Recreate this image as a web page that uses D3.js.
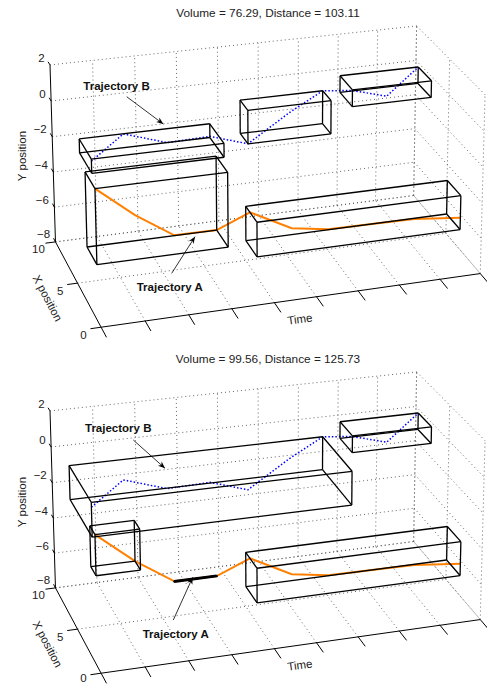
<!DOCTYPE html>
<html><head><meta charset="utf-8">
<script src="https://cdn.jsdelivr.net/npm/d3@7"></script>
<style>body{margin:0;background:#fff}text{font-family:"Liberation Sans",Arial,Helvetica,sans-serif}</style>
</head><body><div id="chart"></div>
<script>
// les deux trajectoires, un point par pas de temps
var timeSteps = d3.range(0, 10);
var trajAX = [0.57, 1.64, 2.55, 2.62, 4.20, 4.14, 4.83, 4.96, 3.96, 2.97];
var trajAY = [-0.80, -2.99, -4.82, -4.87, -4.90, -6.08, -6.76, -6.85, -6.38, -6.17];
var trajBX = [1.18, 3.71, 3.72, 3.70, 4.50, 4.62, 5.88, 7.60, 8.43, 9.64];
var trajBY = [0.39, 0.50, -0.25, -0.18, -1.20, 0.19, 0.65, -0.28, -1.20, -0.24];

// découpage en segments (une boite = enveloppe d'un segment)
var titles = ["Volume = 76.29, Distance = 103.11", "Volume = 99.56, Distance = 125.73"];
var segmentsA = [[[0, 3], [4, 9]], [[0, 1], [2, 3], [4, 9]]];
var segmentsB = [[[0, 3], [4, 6], [7, 9]], [[0, 6], [7, 9]]];

var timeTicks = d3.range(0, 10);
var xTicks = [0, 5, 10];
var yTicks = [-8, -6, -4, -2, 0, 2];

var width = 487, height = 685, panelShift = 346;

var svg = d3.select("#chart").append("svg")
    .attr("width", width).attr("height", height);

var tS = d3.scaleLinear().domain([0, 9]).range([0, 1]);
var xS = d3.scaleLinear().domain([0, 10]).range([0, 1]);
var yS = d3.scaleLinear().domain([-8, 2]).range([0, 1]);

// coins du cadre 3D a l'ecran -> matrice de projection (perspective)
var frameCorners = [
    [[0, 10, 2], [49.5, 65]], [[0, 10, 0], [51.7, 101]], [[0, 10, -8], [55, 242]], [[0, 5, -8], [78.3, 283.3]],
    [[0, 0, -8], [100, 327]], [[3, 0, -8], [233, 308.4]], [[6, 0, -8], [358, 291]], [[9, 0, -8], [480, 274]],
    [[9, 10, 2], [416.7, 26]], [[9, 0, 2], [485, 94.5]], [[9, 10, -8], [413.6, 195.2]]];

function solveCamera(pts) {
    var rows = [], rhs = [];
    pts.forEach(function (d) {
        var u = tS(d[0][0]), v = xS(d[0][1]), w = yS(d[0][2]);
        var X = (d[1][0] - 250) / 250, Y = (d[1][1] - 170) / 170;
        rows.push([u, v, w, 1, 0, 0, 0, 0, -X * u, -X * v, -X * w]); rhs.push(X);
        rows.push([0, 0, 0, 0, u, v, w, 1, -Y * u, -Y * v, -Y * w]); rhs.push(Y);
    });
    var n = 11, M = d3.range(n).map(function () { return new Array(n + 1).fill(0); });
    rows.forEach(function (r, k) {
        for (var i = 0; i < n; i++) {
            for (var j = 0; j < n; j++) M[i][j] += r[i] * r[j];
            M[i][n] += r[i] * rhs[k];
        }
    });
    for (var c = 0; c < n; c++) {
        var p = c;
        for (var r = c + 1; r < n; r++) if (Math.abs(M[r][c]) > Math.abs(M[p][c])) p = r;
        var tmp = M[c]; M[c] = M[p]; M[p] = tmp;
        for (var r2 = 0; r2 < n; r2++) {
            if (r2 === c) continue;
            var f = M[r2][c] / M[c][c];
            for (var j2 = c; j2 <= n; j2++) M[r2][j2] -= f * M[c][j2];
        }
    }
    return M.map(function (r, i) { return r[n] / r[i]; });
}
var P = solveCamera(frameCorners);

function proj(t, x, y) {
    var u = tS(t), v = xS(x), w = yS(y);
    var h = P[8] * u + P[9] * v + P[10] * w + 1;
    return [(P[0] * u + P[1] * v + P[2] * w + P[3]) / h * 250 + 250,
            (P[4] * u + P[5] * v + P[6] * w + P[7]) / h * 170 + 170];
}

var line = d3.line();
var trajA = timeSteps.map(function (t, i) { return [t, trajAX[i], trajAY[i]]; });
var trajB = timeSteps.map(function (t, i) { return [t, trajBX[i], trajBY[i]]; });

function seg3(g, a, b) {
    return g.append("path").attr("d", line([proj(a[0], a[1], a[2]), proj(b[0], b[1], b[2])])).attr("fill", "none");
}

function grid(g, k) {
    var gg = g.append("g").attr("stroke", "#555").attr("stroke-width", 0.9).attr("stroke-dasharray", "1,3");
    yTicks.forEach(function (y) { seg3(gg, [0, 10, y], [9, 10, y]); seg3(gg, [9, 10, y], [9, 0, y]); });
    timeTicks.forEach(function (t) { if (t > 0) { seg3(gg, [t, 10, -8], [t, 10, 2]); seg3(gg, [t, 0, -8], [t, 10, -8]); } });
    xTicks.forEach(function (x) { seg3(gg, [9, x, -8], [9, x, 2]); if (x > 0) seg3(gg, [0, x, -8], [9, x, -8]); });

    // axes pleins
    var ax = g.append("g").attr("stroke", "#000").attr("stroke-width", 1);
    seg3(ax, [0, 10, -8], [0, 10, 2]);
    seg3(ax, [0, 0, -8], [0, 10, -8]);
    seg3(ax, [0, 0, -8], [9, 0, -8]);
    yTicks.forEach(function (y) { seg3(ax, [0, 10, y], [0, 10.45, y]); });
    xTicks.forEach(function (x) { seg3(ax, [0, x, -8], [-0.24, x, -8]); });
    timeTicks.forEach(function (t) { seg3(ax, [t, 0, -8], [t, -1.1, -8]); });

    yTicks.forEach(function (y) {
        var p = proj(0, 10.45, y);
        g.append("text").attr("x", p[0] - 3.5).attr("y", p[1]).attr("text-anchor", "end")
            .attr("font-size", 11.5).attr("fill", "#222").text(y < 0 ? "\u2212" + (-y) : y);
    });
    // on garde le dernier label dans la figure
    var maxY = height - 3 - k * panelShift;
    xTicks.forEach(function (x) {
        var p = proj(-0.24, x, -8);
        g.append("text").attr("x", p[0] - 7).attr("y", Math.min(p[1] + 10, maxY)).attr("text-anchor", "middle")
            .attr("font-size", 11.5).attr("fill", "#222").text(x);
    });
}

function box(g, traj, s) {
    var pts = traj.slice(s[0], s[1] + 1);
    var xe = d3.extent(pts, function (d) { return d[1]; });
    var ye = d3.extent(pts, function (d) { return d[2]; });
    var t0 = pts[0][0], t1 = pts[pts.length - 1][0];
    var bg = g.append("g").attr("stroke", "#000").attr("stroke-width", 1.3);
    xe.forEach(function (x) { ye.forEach(function (y) { seg3(bg, [t0, x, y], [t1, x, y]); }); });
    [t0, t1].forEach(function (t) {
        ye.forEach(function (y) { seg3(bg, [t, xe[0], y], [t, xe[1], y]); });
        xe.forEach(function (x) { seg3(bg, [t, x, ye[0]], [t, x, ye[1]]); });
    });
}

function arrow(g, a, b) {
    g.append("line").attr("x1", a[0]).attr("y1", a[1]).attr("x2", b[0]).attr("y2", b[1])
        .attr("stroke", "#000").attr("stroke-width", 0.8);
    var ang = Math.atan2(b[1] - a[1], b[0] - a[0]), L = 7, Wd = 2.8;
    var bx = b[0] - L * Math.cos(ang), by = b[1] - L * Math.sin(ang);
    g.append("path").attr("d", "M" + b + "L" + [bx - Wd * Math.sin(ang), by + Wd * Math.cos(ang)] +
        "L" + [b[0] - 0.7 * L * Math.cos(ang), b[1] - 0.7 * L * Math.sin(ang)] +
        "L" + [bx + Wd * Math.sin(ang), by - Wd * Math.cos(ang)] + "Z").attr("fill", "#000");
}

var notes = [
    {bx: 83.3, by: 90, b0: [126.7, 96.7], b1: [163.3, 124], ax: 136.7, ay: 291, a0: [171.7, 273.3], a1: [195, 236.7]},
    {bx: 85, by: 86, b0: [133.3, 94], b1: [165, 122.3], ax: 142.7, ay: 292.3, a0: [173.3, 274], a1: [192.7, 231.3]}];

titles.forEach(function (title, k) {
    var g = svg.append("g").attr("transform", "translate(0," + (k * panelShift) + ")");
    g.append("text").attr("x", 268).attr("y", 17).attr("text-anchor", "middle")
        .attr("font-size", 11.8).attr("fill", "#222").text(title);
    grid(g, k);

    g.append("text").attr("transform", "translate(26,156) rotate(-90)").attr("text-anchor", "middle")
        .attr("font-size", 11.5).attr("fill", "#222").text("Y position");
    g.append("text").attr("transform", "translate(44,300) rotate(62)").attr("text-anchor", "middle")
        .attr("font-size", 11.5).attr("fill", "#222").text("X position");
    g.append("text").attr("transform", "translate(300.5,323) rotate(-8)").attr("text-anchor", "middle")
        .attr("font-size", 11.5).attr("fill", "#222").text("Time");

    g.append("path").attr("d", line(trajA.map(function (d) { return proj(d[0], d[1], d[2]); })))
        .attr("fill", "none").attr("stroke", "#ff8000").attr("stroke-width", 2);
    g.append("path").attr("d", line(trajB.map(function (d) { return proj(d[0], d[1], d[2]); })))
        .attr("fill", "none").attr("stroke", "#0000ff").attr("stroke-width", 1.5).attr("stroke-dasharray", "1.5,2");

    segmentsA[k].forEach(function (s) { box(g, trajA, s); });
    segmentsB[k].forEach(function (s) { box(g, trajB, s); });

    var n = notes[k];
    g.append("text").attr("x", n.bx).attr("y", n.by).attr("font-size", 11.5).attr("font-weight", "bold")
        .attr("fill", "#111").text("Trajectory B");
    arrow(g, n.b0, n.b1);
    g.append("text").attr("x", n.ax).attr("y", n.ay).attr("font-size", 11.5).attr("font-weight", "bold")
        .attr("fill", "#111").text("Trajectory A");
    arrow(g, n.a0, n.a1);
});
</script></body></html>
